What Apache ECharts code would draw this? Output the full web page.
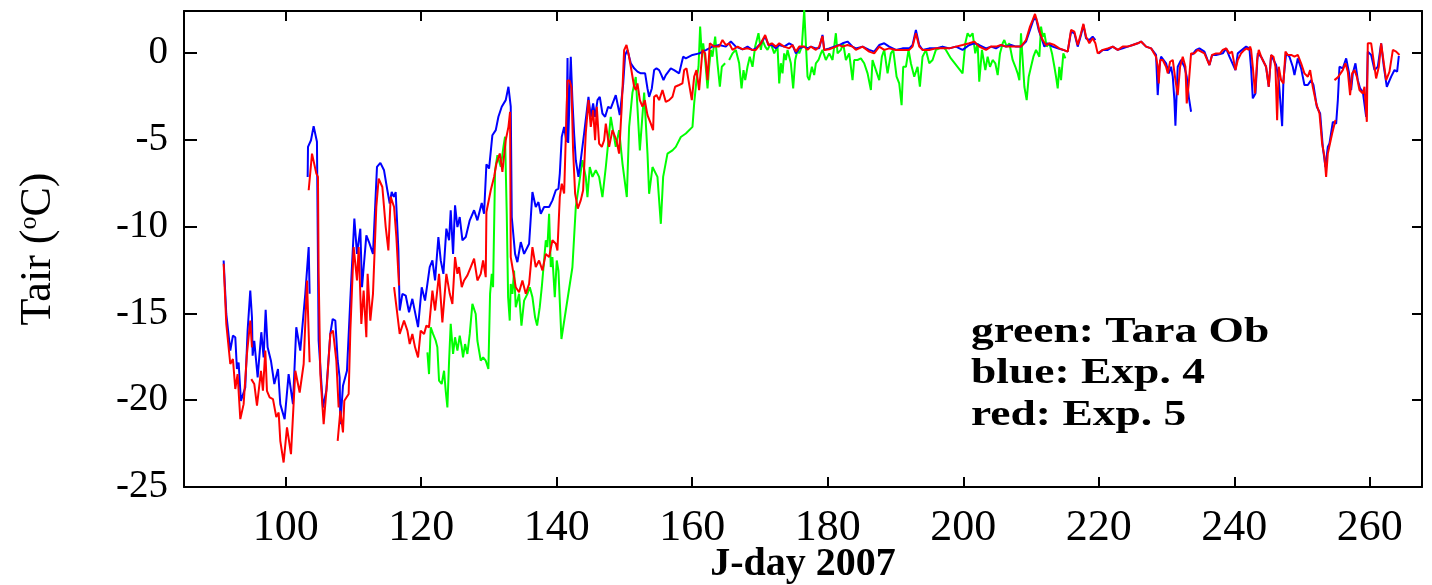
<!DOCTYPE html>
<html>
<head>
<meta charset="utf-8">
<title>Tair J-day 2007</title>
<script type="text/javascript" src="https://cdn.jsdelivr.net/npm/echarts@6/dist/echarts.min.js"></script>
<style>
html, body { margin: 0; padding: 0; background: #fff; }
#container { width: 1432px; height: 585px; }
</style>
</head>
<body>
<div id="container"></div>
<script type="text/javascript">
// tick labels
var dayTicks = [100, 120, 140, 160, 180, 200, 220, 240, 260];
var tempTicks = [-25, -20, -15, -10, -5, 0];
var legendLines = ['green: Tara Ob', 'blue: Exp. 4', 'red: Exp. 5'];

// green: Tara observations (null = gap)
var greenDay = [120.92,121.16,121.41,121.75,122.15,122.39,122.64,123.03,123.38,123.62,123.87,124.12,124.36,124.71,125.0,125.35,125.69,125.99,126.18,126.48,126.82,127.17,127.56,128.05,128.3,128.79,129.14,129.53,129.92,130.17,130.42,130.61,130.91,131.25,131.75,132.14,132.38,132.63,132.83,133.07,133.22,133.47,133.71,133.96,134.45,134.8,135.19,135.68,136.03,136.42,136.81,137.11,137.5,137.8,138.14,138.39,138.63,138.88,139.13,139.37,139.72,140.01,140.26,140.7,142.32,142.57,142.82,143.31,143.8,144.29,144.54,144.88,145.28,145.77,146.26,146.75,147.25,147.98,148.72,149.21,149.71,150.35,150.69,151.18,151.67,152.27,152.91,153.4,153.64,154.14,154.87,155.37,155.71,156.35,157.09,157.58,158.32,159.06,160.04,160.29,160.63,160.93,161.17,161.42,161.62,161.91,162.26,162.5,162.75,162.99,163.39,163.73,164.08,164.37,164.86,null,165.45,165.95,166.44,166.93,167.28,167.57,167.82,168.16,168.5,168.9,169.29,169.78,170.13,170.37,170.77,171.11,171.6,172.1,172.59,172.84,173.08,173.33,173.57,173.82,174.07,174.31,174.56,174.9,175.2,175.54,175.79,176.18,176.53,176.77,177.02,177.26,177.66,178.0,178.25,178.64,178.99,179.23,179.72,180.22,180.71,181.2,181.45,181.94,182.28,182.68,183.17,183.66,183.91,184.4,184.89,185.38,185.88,186.37,186.61,187.11,187.6,187.99,188.34,188.83,189.32,189.67,190.16,190.55,190.9,191.14,191.54,191.93,192.27,192.77,193.26,193.6,193.99,194.49,194.98,195.47,195.96,196.46,196.95,197.44,198.18,199.9,200.3,200.64,200.99,201.38,201.77,202.12,202.36,202.76,203.26,203.6,203.95,204.34,204.73,205.08,205.42,205.82,206.06,206.41,206.8,207.29,207.69,208.03,208.28,208.52,208.77,209.02,209.36,209.66,210.0,210.35,210.74,211.23,211.48,211.72,211.97,212.31,212.71,213.1,213.45,213.69,213.94,214.18,214.43,214.77,215.07];
var greenT = [-17.25,-18.5,-15.81,-16.19,-16.58,-16.96,-18.88,-19.07,-18.31,-19.46,-20.42,-17.73,-15.61,-17.34,-16.38,-17.15,-16.29,-16.96,-17.54,-16.77,-17.34,-16.19,-14.46,-15.04,-16.58,-17.73,-17.54,-17.73,-18.21,-13.88,-12.73,-13.5,-6.77,-5.9,-6.57,-5.42,-4.84,-9.27,-14.07,-15.42,-13.31,-13.88,-12.54,-14.65,-13.88,-15.71,-14.27,-13.88,-13.5,-14.07,-15.23,-15.71,-14.65,-13.5,-11.96,-10.8,-11.19,-9.27,-12.34,-11.77,-14.07,-11.96,-12.54,-16.48,-12.35,-10.62,-8.88,-7.54,-6.19,-7.15,-8.31,-6.58,-7.15,-6.77,-7.15,-8.31,-6.58,-3.69,-5.42,-4.46,-6.38,-8.31,-4.27,-2.3,-1.4,-5.62,-2.3,-5.81,-8.12,-6.58,-7.15,-9.85,-7.15,-5.81,-5.62,-5.42,-4.85,-4.65,-4.27,-2.92,-1.58,-0.81,1.5,-0.13,0.54,-0.42,-2.06,-0.81,0.16,-0.23,0.92,-0.61,-1.96,-0.81,-0.61,null,-0.42,-0.04,0.16,-0.61,-2.06,-1.0,-1.58,-0.81,-0.23,-0.81,0.35,1.12,0.16,0.73,0.35,0.16,0.54,-0.04,0.35,-1.77,-0.61,-1.19,-0.04,-0.42,0.16,0.16,-0.61,-2.06,-0.42,0.16,-0.04,0.35,2.46,0.54,-1.38,-1.58,-0.81,-1.29,-0.61,-0.42,-0.04,0.16,-0.42,-0.04,-0.42,1.12,-0.04,0.16,0.54,-0.42,-0.04,-1.58,-0.42,-0.42,-0.33,-0.61,-1.19,-2.15,-0.42,-1.0,-1.58,-0.23,0.16,-1.19,-0.04,0.16,-1.38,-1.77,-3.02,-0.81,-0.81,0.16,-0.61,-1.38,-0.81,-1.96,-0.23,0.16,-0.61,-0.42,0.16,0.25,0.35,0.16,-0.33,-1.19,0.54,1.12,0.92,1.12,-0.04,0.54,-1.67,0.16,-1.0,-0.23,-0.81,-0.42,-0.61,-1.29,-0.04,0.54,0.73,0.35,0.54,-0.42,-0.81,-1.19,-1.58,1.12,-0.42,-1.96,-2.73,-1.38,-0.81,-0.23,0.16,-0.23,1.5,0.92,1.12,0.35,0.54,-0.04,-0.81,-1.38,-2.06,-0.81,-1.58,-0.04,-0.33];

// blue: Exp. 4
var blueDay = [90.85,91.24,91.83,92.22,92.57,92.81,93.06,93.4,94.04,94.39,94.78,95.03,95.13,95.37,95.87,96.41,96.75,97.05,97.34,97.83,98.33,98.87,99.21,99.85,100.44,101.08,101.57,102.16,102.9,103.4,103.54,null,103.25,103.3,103.74,104.13,104.62,104.87,105.51,106.0,106.59,106.94,107.33,107.68,107.97,108.07,108.46,109.05,109.55,110.14,110.53,111.02,111.27,111.91,112.3,112.89,113.48,113.98,114.52,115.01,115.36,115.65,115.96,116.24,116.64,116.83,117.23,117.72,118.21,118.7,119.54,120.08,120.57,120.92,121.26,121.66,122.05,122.54,122.89,123.28,123.72,124.12,124.36,124.71,125.0,125.35,125.69,126.09,126.58,127.17,127.81,128.3,128.94,129.28,129.63,130.02,130.51,131.01,131.4,131.89,132.48,132.88,133.22,133.37,133.86,134.2,134.7,135.19,135.93,136.42,136.91,137.31,137.65,138.14,138.88,139.37,139.87,140.26,140.46,140.75,141.1,141.44,141.6,141.7,141.95,142.08,142.32,142.57,142.82,143.21,143.55,144.05,144.69,145.03,145.38,145.67,146.02,146.36,146.75,147.15,147.59,147.98,148.72,149.31,149.8,150.1,150.44,150.94,151.43,151.92,152.41,153.05,153.4,153.64,154.04,154.38,154.73,155.12,155.46,155.76,156.1,156.84,157.33,158.07,158.66,159.06,159.55,160.04,161.02,162.01,162.99,163.98,164.96,165.7,166.44,167.42,168.16,168.9,169.39,170.13,170.77,171.26,171.75,172.34,172.84,173.57,174.31,174.8,175.3,175.79,176.53,177.02,177.51,178.25,178.74,179.23,179.48,180.22,180.95,181.69,182.19,182.92,183.66,184.15,185.14,186.12,186.86,187.6,188.34,189.07,190.06,191.04,192.03,192.52,193.01,193.5,193.99,194.98,195.96,196.95,197.93,198.92,199.9,200.89,201.62,202.36,202.62,203.36,204.09,204.83,205.57,206.31,207.05,207.79,208.52,209.26,209.85,210.35,210.74,211.13,211.48,211.97,212.46,213.2,213.94,214.77,215.41,215.91,216.4,216.89,217.38,217.73,218.12,218.61,219.1,219.5,null,219.99,220.58,221.32,222.06,222.8,223.53,224.27,225.01,225.75,226.24,226.98,227.72,228.45,228.7,228.95,229.19,229.93,230.33,230.67,230.92,231.16,231.31,231.65,232.15,232.64,232.98,233.28,233.62,null,233.77,234.36,234.85,235.59,236.33,236.72,237.31,238.3,238.79,239.28,240.17,240.51,241.74,242.23,242.48,242.73,243.12,243.46,243.96,244.69,245.09,245.43,246.17,246.56,247.06,247.25,247.65,248.14,248.63,248.88,249.37,249.86,250.35,250.85,251.34,251.68,252.18,252.67,253.06,253.45,253.8,254.04,254.54,255.03,255.28,255.52,256.01,256.51,256.9,257.24,257.49,257.88,258.23,258.57,258.97,259.46,259.7,260.2,260.69,261.18,261.67,262.07,262.51,263.15,263.64,264.03,264.28];
var blueT = [-11.96,-15.04,-17.15,-16.29,-16.38,-18.21,-17.83,-20.04,-19.27,-15.98,-13.69,-15.23,-17.44,-16.58,-18.69,-16.09,-17.54,-14.8,-16.96,-17.73,-19.07,-18.21,-20.23,-21.1,-18.5,-20.23,-15.8,-17.15,-13.88,-11.19,-13.88,null,-7.15,-5.42,-5.04,-4.23,-5.13,-16.58,-20.42,-19.46,-16.19,-15.33,-15.42,-17.73,-18.69,-21.38,-19.17,-18.31,-14.17,-9.55,-11.58,-10.13,-13.5,-10.52,-10.9,-11.58,-6.57,-6.34,-6.77,-7.92,-8.69,-8.02,-8.3,-8.02,-11.38,-14.84,-13.88,-13.98,-14.94,-14.17,-15.8,-13.5,-14.27,-13.31,-12.34,-11.96,-13.11,-10.61,-11.96,-12.73,-10.13,-10.8,-9.07,-11.58,-8.79,-10.04,-9.46,-10.8,-10.61,-9.65,-9.07,-9.65,-8.65,-9.27,-6.42,-6.67,-4.75,-4.46,-3.69,-3.11,-2.73,-1.96,-3.11,-9.46,-11.58,-12.06,-10.9,-11.58,-11.0,-8.02,-8.88,-8.6,-9.27,-8.88,-8.88,-8.5,-7.92,-7.82,-6.96,-4.84,-4.27,-5.13,-0.3,-5.2,-1.8,-0.23,-2.73,-4.65,-6.19,-7.15,-6.19,-4.65,-2.54,-3.69,-2.92,-3.69,-2.73,-2.54,-3.5,-3.69,-3.11,-3.21,-2.44,-3.59,-1.86,-0.13,0.15,-0.61,-0.9,-1.09,-1.19,-1.19,-2.06,-2.54,-2.06,-1.0,-0.9,-1.0,-1.29,-1.58,-1.29,-0.9,-1.0,-1.19,-0.23,-0.33,-0.23,-0.13,-0.04,0.15,0.35,0.44,0.35,0.64,0.35,0.19,0.35,0.15,0.25,0.54,0.92,0.44,0.44,0.25,0.44,0.35,0.54,0.44,-0.04,0.25,0.35,0.25,0.35,0.25,0.25,1.02,0.16,0.25,0.35,0.44,0.54,0.64,0.35,0.25,0.35,0.16,0.06,0.44,0.54,0.35,0.16,0.25,0.25,0.44,1.31,0.44,0.16,0.25,0.25,0.35,0.25,0.35,0.16,0.44,0.54,0.44,0.44,0.25,0.35,0.25,0.44,0.35,0.44,0.35,0.35,0.64,1.31,1.89,1.98,1.31,0.92,0.35,0.54,0.35,0.25,0.16,0.06,1.21,1.12,0.35,1.02,1.6,0.83,0.73,0.92,0.73,null,-0.04,0.16,0.16,0.35,0.16,0.25,0.35,0.44,0.54,0.64,0.35,0.25,-0.13,-2.44,-0.81,-0.23,-0.61,-1.19,-0.81,-1.38,-2.73,-4.2,-0.81,-0.42,-0.81,-1.38,-2.54,-3.4,null,-0.13,0.16,0.25,0.06,-0.71,-0.13,-0.13,-0.04,0.25,-0.23,-1.0,-0.04,0.35,0.25,-0.9,-2.63,-2.35,-0.04,-0.23,-0.81,-1.96,-0.13,-0.71,-1.58,-4.23,-1.58,-0.04,-0.23,-0.81,-1.29,-0.33,-0.9,-1.86,-1.86,-1.58,-1.86,-3.11,-3.5,-5.42,-6.58,-5.42,-5.23,-3.98,-4.08,-2.73,-0.81,-0.9,-0.33,-1.09,-2.15,-1.19,-0.61,-1.58,-2.06,-2.25,-3.69,0.06,-0.13,-1.0,-0.81,0.54,-0.81,-1.96,-1.38,-1.0,-1.09,-0.19];

// red: Exp. 5
var redDay = [90.85,91.24,91.83,92.22,92.57,92.91,93.31,93.8,94.29,94.78,95.03,null,94.93,95.37,95.77,96.36,96.65,97.0,97.24,97.64,98.13,98.62,98.97,99.21,99.7,100.2,100.79,101.43,102.07,102.66,103.15,103.54,null,103.4,103.89,104.13,104.53,104.77,104.87,105.12,105.61,106.1,106.59,106.99,107.48,107.82,null,107.68,108.07,108.46,108.66,109.3,109.55,110.04,110.53,110.78,111.17,111.51,111.91,112.1,112.5,112.89,113.38,113.73,114.27,114.77,115.16,115.5,116.0,116.34,116.73,null,116.0,116.83,117.47,117.97,118.31,118.7,119.1,119.54,119.93,120.43,120.77,121.16,121.66,122.05,122.64,123.13,123.72,124.22,124.61,125.0,125.35,125.59,125.99,126.33,126.82,127.32,127.81,128.3,128.79,129.14,129.53,129.63,130.27,130.76,131.11,131.6,131.99,132.48,132.88,133.12,133.22,133.47,133.96,134.45,134.94,135.44,135.93,136.42,136.91,137.4,137.9,138.39,138.88,139.37,139.87,140.11,140.46,140.75,141.1,141.59,141.9,142.18,142.42,142.72,143.11,143.55,143.9,144.29,144.69,145.03,145.38,145.67,145.92,146.26,146.66,147.0,147.25,147.74,148.23,148.82,149.21,149.6,149.95,150.3,150.59,150.94,151.43,151.67,151.92,152.27,152.66,153.0,153.4,153.64,153.89,154.23,154.38,154.73,155.12,155.61,156.1,156.6,157.09,157.48,158.07,158.56,158.81,159.16,159.45,159.94,160.29,160.63,161.02,161.52,161.91,162.26,162.6,163.24,163.98,164.47,164.96,165.45,165.95,166.7,167.4,168.16,168.9,169.39,170.13,170.77,171.26,171.75,172.34,172.84,173.57,174.31,174.8,175.3,175.79,176.53,177.02,177.51,178.25,178.74,179.23,179.48,180.22,180.95,181.69,182.19,182.92,183.66,184.15,185.14,186.12,186.86,187.6,188.34,189.07,190.06,191.04,192.03,192.52,193.01,193.5,193.99,194.98,195.96,196.95,197.93,198.92,199.9,200.89,201.62,202.36,203.36,204.09,204.83,205.57,206.31,207.05,207.79,208.52,209.26,209.85,210.25,210.59,210.98,211.33,211.72,212.21,212.71,213.45,214.18,214.77,215.41,215.91,216.4,216.89,217.38,217.73,218.12,218.61,219.1,219.5,219.84,220.58,221.32,222.06,222.8,223.53,224.27,225.01,225.75,226.24,226.98,227.72,228.45,228.7,228.85,229.05,229.44,229.93,230.18,230.52,230.92,231.31,231.65,232.0,232.39,232.79,232.98,233.28,233.62,234.11,234.61,234.85,235.59,236.33,236.72,237.31,237.9,238.3,238.79,239.28,239.67,240.17,240.51,241.0,241.5,241.84,242.14,242.33,242.48,242.73,243.07,243.37,243.61,243.96,244.2,244.69,245.09,245.43,245.78,246.07,246.32,246.56,246.91,247.25,247.55,247.89,248.39,248.88,249.37,249.86,250.35,250.85,251.19,251.58,252.08,252.57,252.96,253.31,253.55,253.8,254.04,254.44,254.68,254.93,null,254.78,255.28,256.01,256.4,256.75,257.09,257.39,257.74,258.08,258.47,258.97,259.21,259.56,259.7,260.2,260.93,261.33,261.67,262.07,262.41,262.9,263.4,263.89,264.38];
var redT = [-12.15,-15.61,-17.92,-17.63,-19.36,-18.5,-21.09,-20.23,-17.34,-15.42,-16.96,null,-18.79,-19.07,-20.32,-18.31,-19.46,-17.15,-19.46,-19.84,-19.94,-20.98,-20.71,-22.34,-23.59,-21.57,-23.11,-18.31,-19.56,-17.92,-13.11,-17.82,null,-7.92,-5.81,-5.71,-6.96,-7.15,-12.73,-18.5,-21.38,-19.07,-16.19,-16.0,-17.73,-20.42,null,-22.34,-20.61,-21.86,-20.04,-19.65,-16.0,-11.19,-13.11,-11.19,-15.61,-13.69,-16.38,-12.73,-15.42,-13.88,-8.88,-7.25,-7.73,-10.04,-11.38,-8.3,-8.88,-10.61,-13.4,null,-13.5,-16.19,-15.42,-16.0,-16.77,-16.19,-16.96,-17.54,-16.0,-16.19,-15.71,-15.81,-13.69,-14.84,-12.73,-15.52,-12.73,-13.88,-14.46,-11.77,-12.73,-12.34,-13.5,-13.11,-12.82,-12.34,-11.86,-13.11,-12.73,-11.96,-12.92,-9.17,-7.92,-7.15,-6.38,-5.8,-6.86,-5.04,-4.27,-3.4,-11.77,-11.67,-13.5,-13.79,-13.11,-13.88,-13.31,-11.19,-12.34,-11.96,-12.54,-11.58,-11.77,-10.8,-11.0,-11.38,-8.3,-7.54,-8.11,-1.6,-1.6,-2.0,-5.6,-8.11,-8.98,-8.5,-7.92,-4.65,-2.73,-4.27,-3.31,-5.04,-3.11,-5.23,-5.42,-5.04,-4.08,-5.42,-4.46,-5.04,-5.81,-3.11,0.15,0.44,-0.04,-0.81,-1.96,-2.15,-1.77,-2.73,-3.11,-2.73,-3.59,-3.69,-4.08,-4.46,-2.54,-2.44,-2.73,-2.15,-2.83,-2.73,-2.54,-1.96,-1.86,-1.77,-1.0,-0.9,-1.58,-2.73,-1.38,-1.0,-2.15,0.16,-0.04,-1.58,0.54,0.35,0.35,0.73,0.44,0.54,0.16,0.35,0.2,0.25,0.16,0.16,0.54,1.02,0.44,0.54,0.35,0.54,0.35,0.25,0.44,0.06,0.35,0.35,0.16,0.35,0.16,0.35,0.96,0.16,0.2,0.31,0.44,0.35,0.44,0.35,0.16,0.35,0.06,-0.04,0.35,0.16,0.25,0.16,0.16,0.16,0.35,1.12,0.35,0.16,0.16,0.25,0.25,0.25,0.35,0.44,0.54,0.64,0.35,0.16,0.35,0.35,0.44,0.35,0.35,0.35,0.35,0.73,1.5,1.89,2.23,1.69,1.12,0.73,0.44,0.54,0.44,0.25,0.16,0.06,1.31,1.21,0.44,1.12,1.66,0.92,0.54,0.83,0.54,-0.04,0.16,0.25,0.35,0.16,0.35,0.35,0.44,0.54,0.64,0.35,0.25,-0.23,-0.81,-1.77,-0.42,-0.42,-0.81,-1.19,-0.52,-0.42,-1.58,-2.44,-0.81,-0.23,-0.81,-2.92,-1.77,-0.04,-0.04,0.16,0.25,-0.04,-0.71,-0.13,-0.04,-0.04,0.16,0.25,-0.04,0.06,-1.0,-0.42,-0.04,0.16,0.25,0.16,0.35,0.16,-0.81,-2.35,-0.42,0.16,-0.23,-0.13,-0.81,-1.96,-0.13,-0.23,-0.81,-3.88,-0.81,-1.58,-1.77,0.06,-0.13,-0.13,-0.23,-0.13,-0.61,-1.19,-1.38,-1.0,-1.96,-2.92,-3.5,-5.23,-6.0,-7.15,-5.81,-5.81,-4.65,-4.75,-3.88,null,-1.58,-1.42,-1.0,-0.61,-1.09,-2.44,-1.19,-1.0,-1.38,-2.15,-2.35,-1.96,-3.98,0.54,0.54,-1.48,-0.81,0.54,-0.61,-1.58,-1.09,0.16,0.06,-0.13];

function pairs(days, temps) {
	var out = [];
	for (var i = 0; i < days.length; i++) {
		if (days[i] === null || temps[i] === null) out.push(['-', '-']);
		else out.push([days[i], temps[i]]);
	}
	return out;
}

var dom = document.getElementById('container');
var myChart = echarts.init(dom, null, { renderer: 'canvas' });

var serif = 'Liberation Serif';
var frame = { show: true, onZero: false, lineStyle: { color: '#000', width: 2 } };

function lineSeries(name, color, days, temps) {
	return {
		name: name,
		type: 'line',
		xAxisIndex: 0,
		yAxisIndex: 0,
		showSymbol: false,
		symbol: 'none',
		connectNulls: false,
		animation: false,
		lineStyle: { color: color, width: 2 },
		data: pairs(days, temps)
	};
}

var legendText = legendLines.map(function (t, i) {
	return {
		type: 'text',
		left: 971,
		top: 315 + i * 41.5,
		scaleX: 1.3,
		style: { text: t, font: 'bold 35px "Liberation Serif"', fill: '#000' }
	};
});

option = {
	backgroundColor: '#fff',
	animation: false,
	grid: { left: 184, right: 10, top: 11, bottom: 98, containLabel: false, outerBoundsMode: 'none' },
	xAxis: [{
		type: 'value', position: 'bottom', min: 85, max: 267.7,
		axisLine: frame,
		axisTick: { inside: true, length: 10, lineStyle: { color: '#000', width: 2 }, customValues: dayTicks },
		axisLabel: { customValues: dayTicks, margin: 19, color: '#000', fontFamily: serif, fontSize: 44 },
		splitLine: { show: false },
		name: 'J-day 2007', nameLocation: 'middle', nameGap: 58, nameMoveOverlap: false,
		nameTextStyle: { color: '#000', fontFamily: serif, fontWeight: 'bold', fontSize: 40 }
	}, {
		type: 'value', position: 'top', min: 85, max: 267.7,
		axisLine: frame,
		axisTick: { inside: true, length: 10, lineStyle: { color: '#000', width: 2 }, customValues: dayTicks },
		axisLabel: { show: false },
		splitLine: { show: false }
	}],
	yAxis: [{
		type: 'value', position: 'left', min: -25, max: 2.4,
		axisLine: frame,
		axisTick: { inside: true, length: 13, lineStyle: { color: '#000', width: 2 }, customValues: tempTicks },
		axisLabel: { customValues: tempTicks, margin: 16, color: '#000', fontFamily: serif, fontSize: 39 },
		splitLine: { show: false },
		name: '{a|Tair (}{s|o}{a|C)}', nameLocation: 'middle', nameGap: 124, nameRotate: 90,
		nameTextStyle: {
			color: '#000',
			rich: {
				a: { fontFamily: serif, fontSize: 44, color: '#000' },
				s: { fontFamily: serif, fontSize: 26, color: '#000', verticalAlign: 'top', padding: [0, 0, 16, 0] }
			}
		}
	}, {
		type: 'value', position: 'right', min: -25, max: 2.4,
		axisLine: frame,
		axisTick: { inside: true, length: 10, lineStyle: { color: '#000', width: 2 }, customValues: tempTicks },
		axisLabel: { show: false },
		splitLine: { show: false }
	}],
	series: [
		lineSeries('Tara Ob', '#00ff00', greenDay, greenT),
		lineSeries('Exp. 4', '#0000ff', blueDay, blueT),
		lineSeries('Exp. 5', '#ff0000', redDay, redT)
	],
	graphic: legendText
};

myChart.setOption(option, true);
</script>
</body>
</html>
